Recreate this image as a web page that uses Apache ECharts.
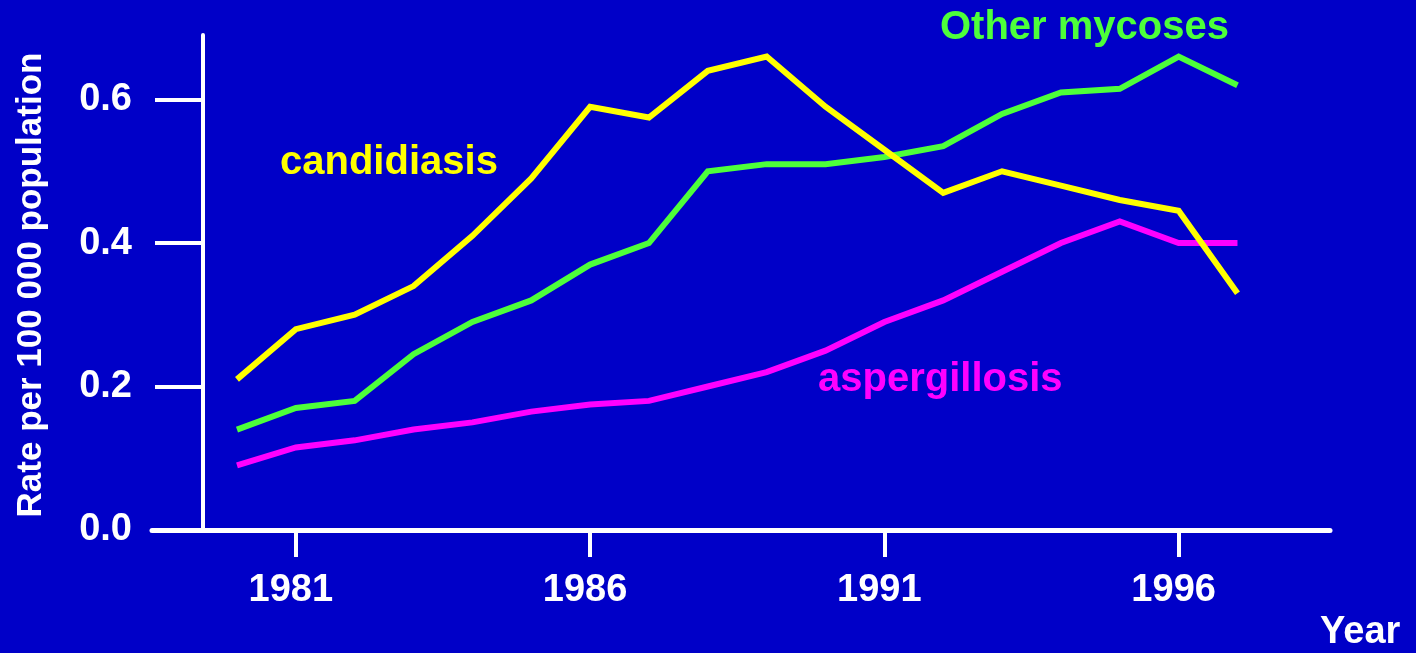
<!DOCTYPE html>
<html>
<head>
<meta charset="utf-8">
<script src="https://cdn.jsdelivr.net/npm/echarts@6/dist/echarts.min.js"></script>
<style>
  html, body { margin: 0; padding: 0; background: #0000c8; }
  #main { width: 1416px; height: 653px; }
</style>
</head>
<body>
<div id="main"></div>
<script>
var years = [1980, 1981, 1982, 1983, 1984, 1985, 1986, 1987, 1988, 1989, 1990, 1991, 1992, 1993, 1994, 1995, 1996, 1997];
var candidiasis = [0.21, 0.28, 0.30, 0.34, 0.41, 0.49, 0.59, 0.575, 0.64, 0.66, 0.59, 0.53, 0.47, 0.50, 0.48, 0.46, 0.445, 0.33];
var otherMycoses = [0.14, 0.17, 0.18, 0.245, 0.29, 0.32, 0.37, 0.40, 0.50, 0.51, 0.51, 0.52, 0.535, 0.58, 0.61, 0.615, 0.66, 0.62];
var aspergillosis = [0.09, 0.115, 0.125, 0.14, 0.15, 0.165, 0.175, 0.18, 0.20, 0.22, 0.25, 0.29, 0.32, 0.36, 0.40, 0.43, 0.40, 0.40];
var yearTicks = [1981, 1986, 1991, 1996];
var rateTicks = [0, 0.2, 0.4, 0.6];

var FONT = "'Liberation Sans', Arial, sans-serif";

function pairs(vals) {
  return years.map(function (y, i) { return [y, vals[i]]; });
}

function lineSeries(name, vals, color) {
  return {
    name: name,
    type: "line",
    data: pairs(vals),
    showSymbol: false,
    symbol: "none",
    silent: true,
    lineStyle: { color: color, width: 6, cap: "butt", join: "miter" },
  };
}

var myChart = echarts.init(document.getElementById("main"));

myChart.setOption({
  backgroundColor: "#0000c8",
  animation: false,
  grid: { left: 152, right: 86, top: 35, bottom: 123 },
  xAxis: {
    type: "value",
    min: 1978.556,
    max: 1998.572,
    splitLine: { show: false },
    axisLine: { show: true, onZero: false, lineStyle: { color: "#fff", width: 5 } },
    axisTick: {
      show: true,
      customValues: yearTicks,
      length: 27,
      lineStyle: { color: "#fff", width: 4 },
    },
    axisLabel: {
      customValues: yearTicks,
      color: "#fff",
      fontFamily: FONT,
      fontWeight: "bold",
      fontSize: 38,
      margin: 42,
      padding: [0, 10, 0, 0],
      formatter: function (v) { return String(v); },
    },
  },
  yAxis: {
    type: "value",
    min: 0,
    max: 0.69,
    offset: -51,
    splitLine: { show: false },
    axisLine: { show: true, onZero: false, lineStyle: { color: "#fff", width: 4 } },
    axisTick: {
      show: true,
      customValues: rateTicks,
      length: 48,
      lineStyle: { color: "#fff", width: 4 },
    },
    axisLabel: {
      customValues: rateTicks,
      color: "#fff",
      fontFamily: FONT,
      fontWeight: "bold",
      fontSize: 38,
      margin: 71,
      padding: [0, 0, 16, 0],
      formatter: function (v) { return v.toFixed(1); },
    },
  },
  graphic: [
    {
      type: "text", left: 280, top: 143,
      style: { text: "candidiasis", fill: "#ffff00", font: "bold 40px " + FONT },
    },
    {
      type: "text", left: 940, top: 8,
      style: { text: "Other mycoses", fill: "#4dff3a", font: "bold 40px " + FONT },
    },
    {
      type: "text", left: 818, top: 360,
      style: { text: "aspergillosis", fill: "#ff00ff", font: "bold 40px " + FONT },
    },
    {
      type: "text", left: 1320, top: 614,
      style: { text: "Year", fill: "#fff", font: "bold 38px " + FONT },
    },
    {
      type: "text", x: 31, y: 285, rotation: Math.PI / 2,
      style: {
        text: "Rate per 100 000 population", fill: "#fff",
        font: "bold 35px " + FONT, align: "center", verticalAlign: "middle",
      },
    },
  ],
  series: [
    lineSeries("aspergillosis", aspergillosis, "#ff00ff"),
    lineSeries("Other mycoses", otherMycoses, "#4dff3a"),
    lineSeries("candidiasis", candidiasis, "#ffff00"),
  ],
});
</script>
</body>
</html>
